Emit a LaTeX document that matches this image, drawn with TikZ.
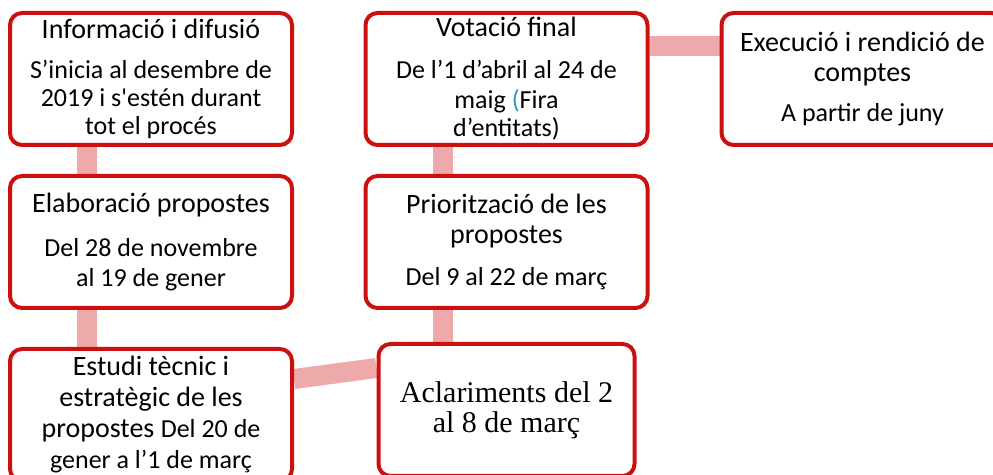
\documentclass[tikz,border=0pt]{standalone}
\usepackage{fontspec}
\setmainfont{Carlito}
\newfontfamily\cambria{Liberation Serif}
\usetikzlibrary{backgrounds}
\definecolor{vermell}{RGB}{204,16,16}
\definecolor{rosa}{RGB}{238,170,170}
\definecolor{blau}{RGB}{50,150,190}
\newcommand{\titol}{\fontsize{14}{15}\selectfont}
\newcommand{\textcos}{\fontsize{13}{14}\selectfont}

\begin{document}
\begin{tikzpicture}[
		x=0.5pt, y=-0.5pt,
		fase/.style={rectangle, rounded corners=6pt, draw=vermell, line width=2pt, fill=white,
				minimum width=141pt, minimum height=66pt, align=center, inner sep=2pt, font=\textcos},
		enllac/.style={rosa, line width=10pt}
	]
	\useasboundingbox (0,0) rectangle (993,475);
	\clip (0,0) rectangle (993,475);
	\node[fase] (info) at (151,79) {{\titol Informació i difusió}\\[6pt]
			S’inicia al desembre de\\ 2019 i s\textquotesingle estén durant\\ tot el procés};
	\node[fase] (vot) at (506.5,79) {{\titol Votació final}\\[7pt]
			De l’1 d’abril al 24 de\\[1pt] maig {\color{blau}(}Fira\\ d’entitats)};
	\node[fase] (exec) at (862.5,79) {{\titol Execució i rendició de}\\[1pt] {\titol comptes}\\[6pt]
			A partir de juny};
	\node[fase] (elab) at (151,242) {{\titol Elaboració propostes}\\[8pt]
			Del 28 de novembre\\[1pt] al 19 de gener};
	\node[fase] (prior) at (506.5,242) {{\titol Priorització de les}\\[1pt] {\titol propostes}\\[7pt]
			Del 9 al 22 de març};
	\node[fase, font=\titol] (estudi) at (151,415) {Estudi tècnic i\\[0.5pt] estratègic de les\\[0.5pt]
			propostes {\textcos Del 20 de}\\[0.5pt] {\textcos gener a l’1 de març}};
	\node[fase, minimum width=128pt, font=\cambria\fontsize{15}{15}\selectfont] (aclar) at (506.5,410)
		{Aclariments del 2\\ al 8 de març};
	\begin{scope}[on background layer]
		\draw[enllac] ([xshift=-32pt]info.south) -- ([xshift=-32pt]elab.north);
		\draw[enllac] ([xshift=-32pt]elab.south) -- ([xshift=-32pt]estudi.north);
		\draw[enllac] ([yshift=18pt]estudi.east) -- ([yshift=21pt]aclar.west);
		\draw[enllac] ([xshift=-32pt]aclar.north) -- ([xshift=-32pt]prior.south);
		\draw[enllac] ([xshift=-32pt]prior.north) -- ([xshift=-32pt]vot.south);
		\draw[enllac] ([yshift=16.5pt]vot.east) -- ([yshift=16.5pt]exec.west);
	\end{scope}
\end{tikzpicture}
\end{document}
